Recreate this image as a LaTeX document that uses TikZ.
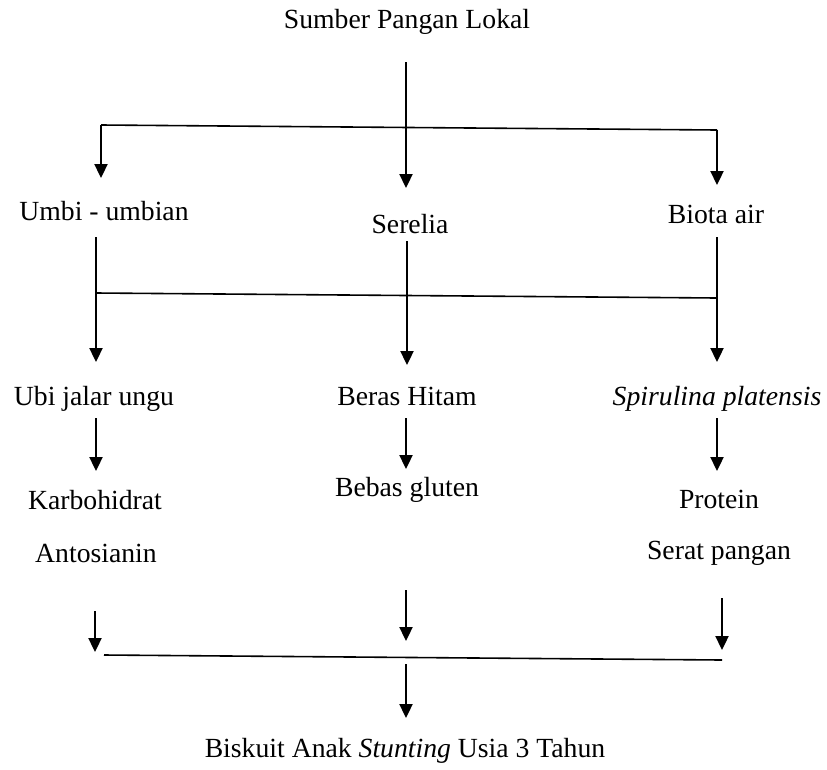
\documentclass[tikz,border=0pt]{standalone}
\usepackage{fontspec}
\setmainfont{Liberation Serif}
\usetikzlibrary{arrows.meta}
\begin{document}
\begin{tikzpicture}[x=1pt,y=-1pt,
  lbl/.style={font=\fontsize{27.7}{33}\selectfont, anchor=base, inner sep=0pt},
  arr/.style={line width=2.3pt, -{Triangle[length=14pt,width=13pt]}},
  hline/.style={line width=1.6pt}]
\useasboundingbox[fill=white] (0,0) rectangle (827,769);

% texts
\node[lbl] (src) at (407,28) {Sumber Pangan Lokal};
\node[lbl] (umbi) at (104,220) {Umbi - umbian};
\node[lbl] (ser) at (410,233) {Serelia};
\node[lbl] (bio) at (716,223) {Biota air};
\node[lbl] (ubi) at (94,405) {Ubi jalar ungu};
\node[lbl] (beras) at (407,405) {Beras Hitam};
\node[lbl] (spir) at (717,405) {\textit{Spirulina platensis}};
\node[lbl] (karbo) at (95,509) {Karbohidrat};
\node[lbl] (antos) at (96,562) {Antosianin};
\node[lbl] (gluten) at (407,496) {Bebas gluten};
\node[lbl] (prot) at (719,508) {Protein};
\node[lbl] (serat) at (719,559) {Serat pangan};
\node[lbl] (bisk) at (405,757) {Biskuit Anak \textit{Stunting} Usia 3 Tahun};

% level 1
\coordinate (a0) at (406,62);
\coordinate (a0e) at (406,188);
\coordinate (l1a) at (101,125);
\coordinate (l1b) at (717,130);
\coordinate (l1ae) at (101,178);
\coordinate (l1be) at (717,185);
\draw[arr] (a0) -- (a0e);
\draw[hline] (l1a) -- (l1b);
\draw[arr] (l1a) -- (l1ae);
\draw[arr] (l1b) -- (l1be);

% level 2
\coordinate (v1s) at (96,237);   \coordinate (v1e) at (96,362);
\coordinate (v2s) at (407,241);  \coordinate (v2e) at (407,365);
\coordinate (v3s) at (717,237);  \coordinate (v3e) at (717,362);
\coordinate (l2a) at (96,293);   \coordinate (l2b) at (717,298);
\draw[arr] (v1s) -- (v1e);
\draw[arr] (v2s) -- (v2e);
\draw[arr] (v3s) -- (v3e);
\draw[hline] (l2a) -- (l2b);

% level 3
\coordinate (w1s) at (96,418);   \coordinate (w1e) at (96,471);
\coordinate (w2s) at (406,418);  \coordinate (w2e) at (406,469);
\coordinate (w3s) at (717,418);  \coordinate (w3e) at (717,471);
\draw[arr] (w1s) -- (w1e);
\draw[arr] (w2s) -- (w2e);
\draw[arr] (w3s) -- (w3e);

% level 4
\coordinate (x1s) at (95,611);   \coordinate (x1e) at (95,652);
\coordinate (x2s) at (406,590);  \coordinate (x2e) at (406,641);
\coordinate (x3s) at (722,598);  \coordinate (x3e) at (722,650);
\coordinate (l3a) at (104,655);  \coordinate (l3b) at (722,660);
\coordinate (fs) at (406,664);   \coordinate (fe) at (406,718);
\draw[arr] (x1s) -- (x1e);
\draw[arr] (x2s) -- (x2e);
\draw[arr] (x3s) -- (x3e);
\draw[hline] (l3a) -- (l3b);
\draw[arr] (fs) -- (fe);
\end{tikzpicture}
\end{document}
